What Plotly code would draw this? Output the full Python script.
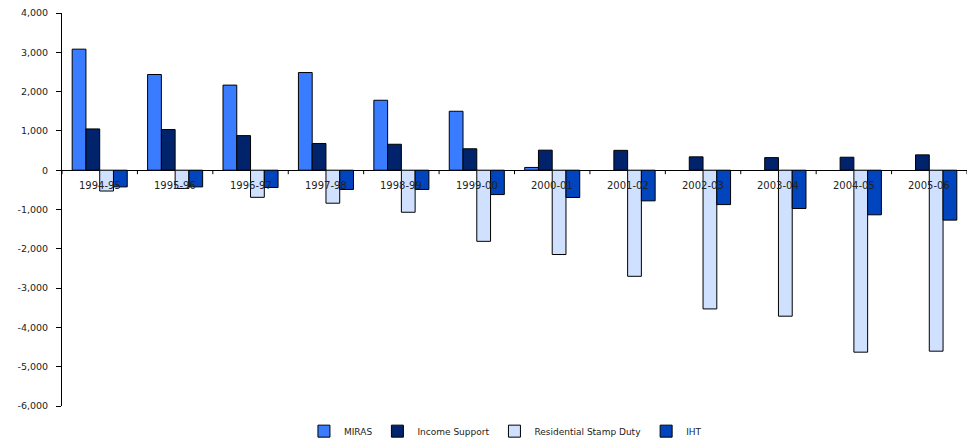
import plotly.graph_objects as go

years = ["1994-95", "1995-96", "1996-97", "1997-98", "1998-99", "1999-00",
         "2000-01", "2001-02", "2002-03", "2003-04", "2004-05", "2005-06"]
miras = [3080, 2435, 2165, 2485, 1780, 1500, 70, None, None, None, None, None]
income_support = [1050, 1035, 880, 680, 660, 545, 510, 505, 340, 320, 330, 390]
stamp_duty = [-530, -465, -690, -840, -1070, -1810, -2145, -2700, -3530, -3715, -4630, -4605]
iht = [-425, -425, -440, -490, -490, -620, -695, -780, -875, -975, -1135, -1270]
y_ticks = [4000, 3000, 2000, 1000, 0, -1000, -2000, -3000, -4000, -5000, -6000]
y_tick_text = ["4,000", "3,000", "2,000", "1,000", "0", "-1,000", "-2,000",
               "-3,000", "-4,000", "-5,000", "-6,000"]

series = [("MIRAS", miras, "#3a7cff"),
          ("Income Support", income_support, "#00236b"),
          ("Residential Stamp Duty", stamp_duty, "#d0e0ff"),
          ("IHT", iht, "#0044be")]

FONT = "DejaVu Sans, Liberation Sans, Arial"
fig = go.Figure()
for name, vals, col in series:
    fig.add_trace(go.Bar(x=list(range(len(years))), y=vals, name=name,
                         marker=dict(color=col, line=dict(color="#000000", width=1))))

# category labels along the zero line
for i, yr in enumerate(years):
    fig.add_annotation(x=i, y=0, xref="x", yref="y", text=yr, showarrow=False,
                       yshift=-15, font=dict(family=FONT, size=10, color="#222222"))
# tick marks between categories on the zero line
for k in range(len(years) + 1):
    fig.add_shape(type="line", xref="x", yref="y", x0=k - 0.5, x1=k - 0.5,
                  ysizemode="pixel", yanchor=0, y0=0, y1=-4,
                  line=dict(color="#000000", width=1))

fig.update_layout(
    width=970, height=439,
    margin=dict(l=62, r=3, t=13, b=33, autoexpand=False),
    paper_bgcolor="white", plot_bgcolor="white",
    barmode="group", bargap=0.27, bargroupgap=0,
    font=dict(family=FONT, size=9.5, color="#222222"),
    showlegend=True,
    legend=dict(orientation="h", x=0.49, xanchor="center", y=-0.064, yanchor="middle",
                font=dict(family=FONT, size=9), itemwidth=30, tracegroupgap=0),
    xaxis=dict(range=[-0.5, len(years) - 0.5], showticklabels=False, showgrid=False,
               zeroline=False, showline=False, ticks=""),
    yaxis=dict(range=[-6000, 4000], tickvals=y_ticks, ticktext=y_tick_text, showgrid=False,
               zeroline=True, zerolinecolor="#000000", zerolinewidth=1,
               showline=True, linecolor="#000000", linewidth=1,
               ticks="outside", ticklen=5, tickcolor="#000000", ticklabelstandoff=6),
)
fig.write_html("out.html")
